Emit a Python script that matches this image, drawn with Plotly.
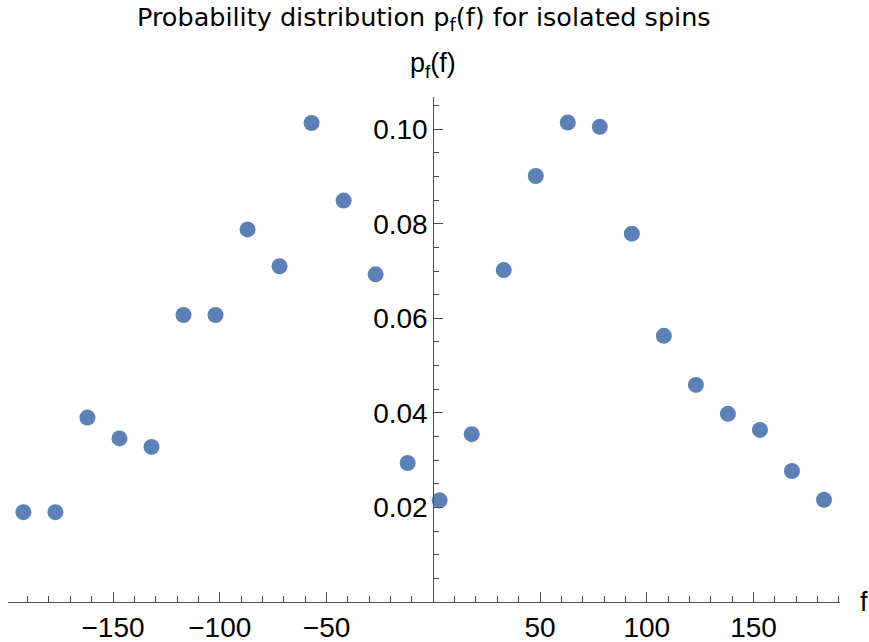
import plotly.graph_objects as go

# frequency values f and probabilities p_f(f)
f_vals = [-192, -177, -162, -147, -132, -117, -102, -87, -72, -57, -42, -27, -12,
          3, 18, 33, 48, 63, 78, 93, 108, 123, 138, 153, 168, 183]
p_vals = [0.0190, 0.0190, 0.0390, 0.0346, 0.0328, 0.0607, 0.0607, 0.0788, 0.0710,
          0.1013, 0.0849, 0.0693, 0.0294, 0.0215, 0.0355, 0.0702, 0.0901, 0.1014,
          0.1005, 0.0779, 0.0563, 0.0459, 0.0398, 0.0364, 0.0277, 0.0216]

x_ticks = [-150, -100, -50, 0, 50, 100, 150]
x_tick_text = ["\u2212150", "\u2212100", "\u221250", " ", "50", "100", "150"]
y_ticks = [0.02, 0.04, 0.06, 0.08, 0.10]
y_tick_text = ["0.02", "0.04", "0.06", "0.08", "0.10"]

x_range = [-199.2, 190.5]
y_range = [0, 0.1068]

AX = "#4a4a4a"
TICK_FONT = dict(family="Liberation Sans", size=28, color="black")

fig = go.Figure()
fig.add_trace(go.Scatter(
    x=f_vals, y=p_vals, mode="markers",
    marker=dict(size=16, color="#5E81B5", line=dict(width=0)),
    cliponaxis=False, showlegend=False,
))

fig.update_layout(
    width=869, height=642,
    margin=dict(l=8, r=29, t=97, b=40, autoexpand=False),
    paper_bgcolor="white", plot_bgcolor="white",
    xaxis=dict(
        range=x_range, showgrid=False, zeroline=False, automargin=False,
        showline=True, linecolor=AX, linewidth=1,
        tickmode="array", tickvals=x_ticks, ticktext=x_tick_text,
        ticks="inside", ticklen=10, tickwidth=1, tickcolor=AX,
        tickfont=TICK_FONT, ticklabelstandoff=0,
        minor=dict(tickmode="linear", tick0=0, dtick=10, ticks="inside",
                   ticklen=6, tickwidth=1, tickcolor=AX, showgrid=False),
    ),
    yaxis=dict(
        range=y_range, showgrid=False, zeroline=False, automargin=False,
        anchor="free", position=(0 - x_range[0]) / (x_range[1] - x_range[0]),
        showline=True, linecolor=AX, linewidth=1,
        tickmode="array", tickvals=y_ticks, ticktext=y_tick_text,
        ticks="inside", ticklen=9, tickwidth=1, tickcolor=AX,
        tickfont=TICK_FONT,
        minor=dict(tickmode="linear", tick0=0, dtick=0.005, ticks="inside",
                   ticklen=5, tickwidth=1, tickcolor=AX, showgrid=False),
    ),
    annotations=[
        dict(text="Probability distribution p<sub>f</sub>(f) for isolated spins",
             x=0.5, xref="paper", y=1, yref="paper", yshift=79, yanchor="middle",
             showarrow=False, font=dict(family="DejaVu Sans", size=25.5, color="black")),
        dict(text="p<sub>f</sub>(f)", x=0, xref="x", y=1, yref="paper",
             yshift=32, yanchor="middle", showarrow=False,
             font=dict(family="Liberation Sans", size=27, color="black")),
        dict(text="f", x=1, xref="paper", y=0, yref="paper", xanchor="left",
             xshift=18, yanchor="middle", showarrow=False,
             font=dict(family="Liberation Sans", size=27, color="black")),
    ],
)

fig.write_html("out.html")
